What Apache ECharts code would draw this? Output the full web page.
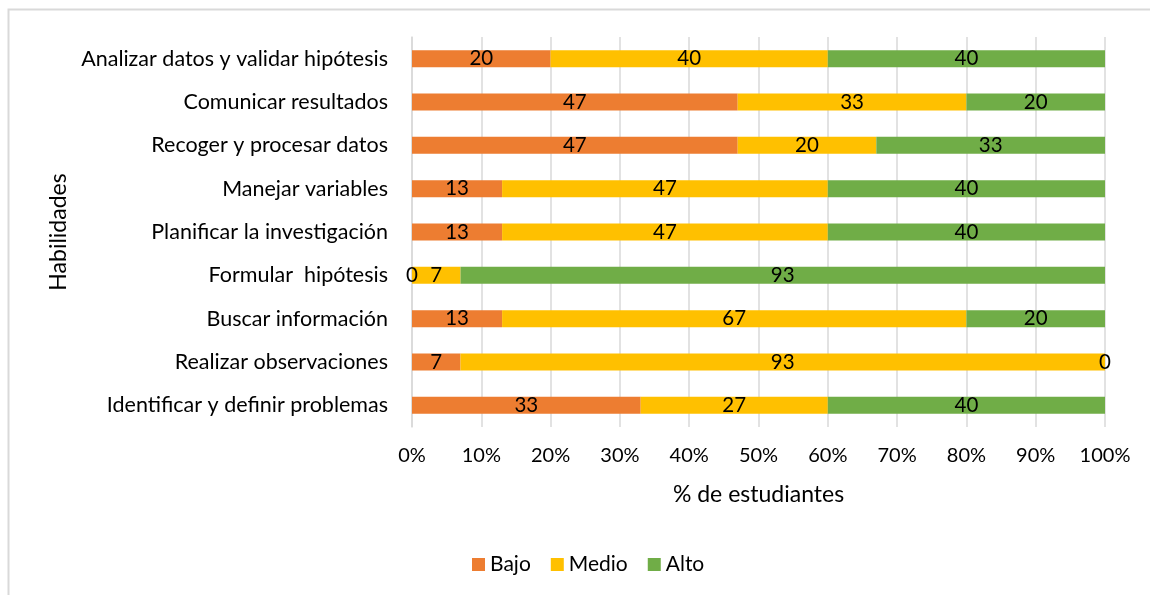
<!DOCTYPE html>
<html>
<head>
<meta charset="utf-8">
<script src="https://cdn.jsdelivr.net/npm/echarts@6/dist/echarts.min.js"></script>
<style>
  html, body { margin: 0; padding: 0; background: #fff; }
  #chart { width: 1150px; height: 595px; }
</style>
</head>
<body>
<div id="chart"></div>
<script>
// categories bottom -> top (category axis on y starts at the bottom)
const habilidades = [
  'Identificar y definir problemas',
  'Realizar observaciones',
  'Buscar información',
  'Formular  hipótesis',
  'Planificar la investigación',
  'Manejar variables',
  'Recoger y procesar datos',
  'Comunicar resultados',
  'Analizar datos y validar hipótesis'
]
const bajo  = [33, 7, 13, 0, 13, 13, 47, 47, 20]
const medio = [27, 93, 67, 7, 47, 47, 20, 33, 40]
const alto  = [40, 0, 20, 93, 40, 40, 33, 20, 40]

const FONT = 'Lato'
const myChart = echarts.init(document.getElementById('chart'))

const label = {
  show: true,
  position: 'inside',
  color: '#000',
  fontFamily: FONT,
  fontSize: 20.5
}

const mkSeries = (name, data, color) => ({
  name,
  type: 'bar',
  stack: 'total',
  barWidth: 17,
  data,
  label,
  itemStyle: { color }
})

const option = {
  animation: false,
  textStyle: { fontFamily: FONT },
  graphic: [{
    type: 'rect',
    shape: { x: 8.5, y: 9.5, width: 1200, height: 700 },
    style: { fill: 'none', stroke: '#d9d9d9', lineWidth: 2 },
    silent: true
  }],
  legend: {
    data: ['Bajo', 'Medio', 'Alto'],
    left: 467,
    top: 549,
    itemWidth: 13,
    itemHeight: 13,
    itemGap: 20,
    icon: 'rect',
    textStyle: { fontFamily: FONT, fontSize: 21, color: '#000' }
  },
  grid: { left: 412, right: 45, top: 37, bottom: 168, containLabel: false },
  xAxis: {
    type: 'value',
    min: 0,
    max: 100,
    interval: 10,
    name: '% de estudiantes',
    nameLocation: 'middle',
    nameGap: 56,
    nameTextStyle: { fontFamily: FONT, fontSize: 23, color: '#000' },
    axisLine: { show: false },
    axisTick: { show: false },
    axisLabel: { formatter: '{value}%', fontFamily: FONT, fontSize: 20, color: '#000', margin: 19 },
    splitLine: { show: true, lineStyle: { color: '#d9d9d9', width: 1.5 } }
  },
  yAxis: {
    type: 'category',
    data: habilidades,
    name: 'Habilidades',
    nameLocation: 'middle',
    nameGap: 340,
    nameRotate: 90,
    nameTextStyle: { fontFamily: FONT, fontSize: 23, color: '#000' },
    axisLine: { show: true, lineStyle: { color: '#d9d9d9', width: 1.5 } },
    axisTick: { show: false },
    axisLabel: { fontFamily: FONT, fontSize: 21.5, color: '#000', margin: 24 }
  },
  series: [
    mkSeries('Bajo', bajo, '#ED7D31'),
    mkSeries('Medio', medio, '#FFC000'),
    mkSeries('Alto', alto, '#70AD47')
  ]
}

myChart.setOption(option)
window.addEventListener('resize', () => myChart.resize())
</script>
</body>
</html>
